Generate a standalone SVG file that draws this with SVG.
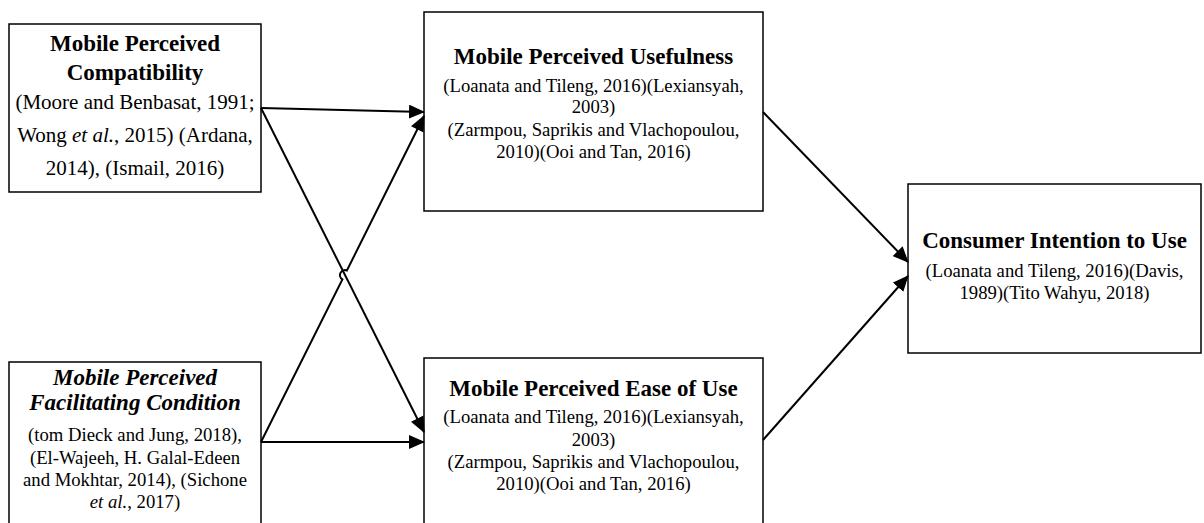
<svg xmlns="http://www.w3.org/2000/svg" width="1204" height="523" viewBox="0 0 1204 523">
<style>
.box{fill:#fff;stroke:#000;stroke-width:1.5}
.t{font-family:"Liberation Serif","Times New Roman",serif;font-weight:bold;font-size:23px;text-anchor:middle;fill:#000}
.ti{font-style:italic}
.b{font-family:"Liberation Serif","Times New Roman",serif;font-size:18.7px;text-anchor:middle;fill:#000}
.bl{font-size:21px}
.c{stroke:#000;stroke-width:2;fill:none}
</style>
<defs>
<marker id="ah" markerUnits="userSpaceOnUse" markerWidth="16" markerHeight="14" refX="15" refY="7" orient="auto">
<path d="M0,0 L16,7 L0,14 Z" fill="#000"/>
</marker>
</defs>
<rect width="1204" height="523" fill="#fff"/>
<g id="compatibility">
<rect class="box" x="9" y="24" width="252" height="168"/>
<text class="t" x="135" y="51">Mobile Perceived</text>
<text class="t" x="135" y="80">Compatibility</text>
<text class="b bl" x="135" y="109">(Moore and Benbasat, 1991;</text>
<text class="b bl" x="135" y="142">Wong <tspan font-style="italic">et al.</tspan>, 2015) (Ardana,</text>
<text class="b bl" x="135" y="175">2014), (Ismail, 2016)</text>
</g>
<g id="facilitating">
<rect class="box" x="9" y="362" width="252" height="170"/>
<text class="t ti" x="135" y="385">Mobile Perceived</text>
<text class="t ti" x="135" y="410">Facilitating Condition</text>
<text class="b" x="135" y="441">(tom Dieck and Jung, 2018),</text>
<text class="b" x="135" y="464">(El-Wajeeh, H. Galal-Edeen</text>
<text class="b" x="135" y="486">and Mokhtar, 2014), (Sichone</text>
<text class="b" x="135" y="508"><tspan font-style="italic">et al.</tspan>, 2017)</text>
</g>
<g id="usefulness">
<rect class="box" x="424" y="12" width="339" height="199"/>
<text class="t" x="593.5" y="64">Mobile Perceived Usefulness</text>
<text class="b" x="593.5" y="92">(Loanata and Tileng, 2016)(Lexiansyah,</text>
<text class="b" x="593.5" y="113">2003)</text>
<text class="b" x="593.5" y="136">(Zarmpou, Saprikis and Vlachopoulou,</text>
<text class="b" x="593.5" y="158">2010)(Ooi and Tan, 2016)</text>
</g>
<g id="ease">
<rect class="box" x="424" y="358" width="339" height="174"/>
<text class="t" x="593.5" y="396">Mobile Perceived Ease of Use</text>
<text class="b" x="593.5" y="423">(Loanata and Tileng, 2016)(Lexiansyah,</text>
<text class="b" x="593.5" y="446">2003)</text>
<text class="b" x="593.5" y="468">(Zarmpou, Saprikis and Vlachopoulou,</text>
<text class="b" x="593.5" y="490">2010)(Ooi and Tan, 2016)</text>
</g>
<g id="intention">
<rect class="box" x="908" y="184" width="293" height="169"/>
<text class="t" x="1054.5" y="248">Consumer Intention to Use</text>
<text class="b" x="1054.5" y="277">(Loanata and Tileng, 2016)(Davis,</text>
<text class="b" x="1054.5" y="299">1989)(Tito Wahyu, 2018)</text>
</g>
<g id="connectors">
<line class="c" x1="261" y1="108" x2="424" y2="112" marker-end="url(#ah)"/>
<line class="c" x1="261" y1="108" x2="424" y2="432" marker-end="url(#ah)"/>
<path class="c" d="M261,442 L342.4,279.4 A5,5 0 0 1 346.9,270.5 L424,116" marker-end="url(#ah)"/>
<line class="c" x1="261" y1="442" x2="424" y2="442" marker-end="url(#ah)"/>
<line class="c" x1="763" y1="112" x2="908" y2="262" marker-end="url(#ah)"/>
<line class="c" x1="763" y1="440" x2="908" y2="276" marker-end="url(#ah)"/>
</g>
</svg>
